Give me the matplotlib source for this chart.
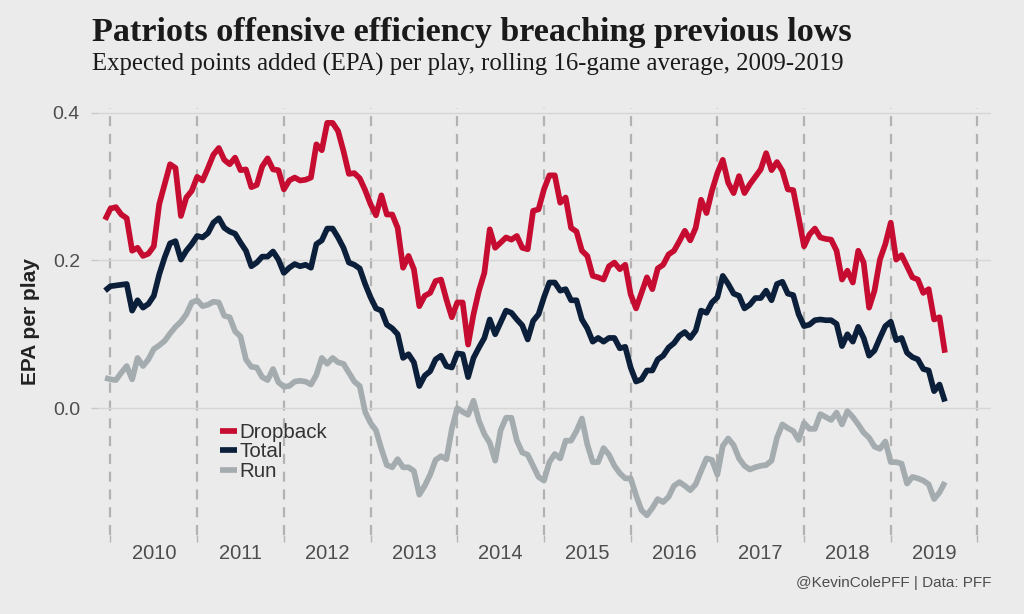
import numpy as np
import matplotlib
matplotlib.use("Agg")
import matplotlib.pyplot as plt

# rolling 16-game EPA per play, one value per regular-season game
# (last game of 2009 through week 11 of 2019)
dropback = [0.255, 0.270, 0.272, 0.262, 0.257, 0.213, 0.217, 0.206, 0.209, 0.219,
            0.276, 0.303, 0.330, 0.325, 0.260, 0.285, 0.294, 0.313, 0.308, 0.325,
            0.343, 0.352, 0.336, 0.330, 0.339, 0.322, 0.323, 0.299, 0.302, 0.327,
            0.338, 0.323, 0.322, 0.296, 0.308, 0.312, 0.308, 0.309, 0.312, 0.357,
            0.349, 0.386, 0.386, 0.375, 0.348, 0.317, 0.318, 0.311, 0.295, 0.276,
            0.261, 0.288, 0.262, 0.262, 0.244, 0.190, 0.206, 0.188, 0.138, 0.152,
            0.156, 0.172, 0.174, 0.147, 0.123, 0.143, 0.143, 0.086, 0.127, 0.159,
            0.183, 0.242, 0.217, 0.224, 0.231, 0.228, 0.233, 0.217, 0.215, 0.267,
            0.269, 0.296, 0.315, 0.315, 0.278, 0.285, 0.244, 0.239, 0.213, 0.206,
            0.179, 0.177, 0.174, 0.192, 0.197, 0.188, 0.194, 0.154, 0.135, 0.156,
            0.177, 0.161, 0.189, 0.194, 0.208, 0.213, 0.226, 0.240, 0.227, 0.244,
            0.282, 0.264, 0.294, 0.318, 0.336, 0.305, 0.291, 0.314, 0.291, 0.303,
            0.313, 0.323, 0.345, 0.322, 0.333, 0.321, 0.296, 0.295, 0.258, 0.219,
            0.235, 0.243, 0.231, 0.229, 0.228, 0.213, 0.174, 0.186, 0.170, 0.213,
            0.197, 0.136, 0.159, 0.201, 0.222, 0.251, 0.201, 0.207, 0.192, 0.177,
            0.174, 0.156, 0.161, 0.120, 0.123, 0.075]

total = [0.159, 0.165, 0.166, 0.167, 0.168, 0.132, 0.146, 0.136, 0.141, 0.152,
         0.181, 0.204, 0.223, 0.226, 0.201, 0.213, 0.222, 0.233, 0.231, 0.237,
         0.251, 0.257, 0.244, 0.239, 0.236, 0.224, 0.213, 0.192, 0.197, 0.205,
         0.205, 0.212, 0.201, 0.183, 0.190, 0.195, 0.192, 0.194, 0.190, 0.222,
         0.227, 0.243, 0.243, 0.231, 0.217, 0.197, 0.194, 0.189, 0.168, 0.150,
         0.135, 0.132, 0.113, 0.108, 0.100, 0.068, 0.073, 0.062, 0.030, 0.044,
         0.050, 0.066, 0.071, 0.057, 0.055, 0.074, 0.073, 0.042, 0.068, 0.082,
         0.095, 0.120, 0.100, 0.116, 0.132, 0.129, 0.120, 0.112, 0.093, 0.118,
         0.127, 0.150, 0.170, 0.170, 0.159, 0.161, 0.146, 0.146, 0.120, 0.108,
         0.090, 0.095, 0.090, 0.095, 0.095, 0.081, 0.083, 0.055, 0.036, 0.039,
         0.051, 0.051, 0.066, 0.071, 0.082, 0.088, 0.098, 0.103, 0.095, 0.105,
         0.132, 0.129, 0.143, 0.150, 0.179, 0.168, 0.155, 0.152, 0.135, 0.140,
         0.149, 0.149, 0.159, 0.146, 0.168, 0.171, 0.155, 0.153, 0.127, 0.111,
         0.113, 0.119, 0.120, 0.119, 0.119, 0.114, 0.084, 0.100, 0.090, 0.110,
         0.095, 0.071, 0.078, 0.095, 0.111, 0.117, 0.092, 0.095, 0.075, 0.069,
         0.066, 0.053, 0.051, 0.023, 0.032, 0.009]

run = [0.041, 0.039, 0.038, 0.048, 0.057, 0.039, 0.068, 0.057, 0.066, 0.080,
       0.085, 0.091, 0.101, 0.110, 0.117, 0.127, 0.143, 0.146, 0.138, 0.140,
       0.144, 0.143, 0.125, 0.123, 0.104, 0.097, 0.066, 0.056, 0.055, 0.042,
       0.038, 0.053, 0.035, 0.029, 0.030, 0.036, 0.037, 0.036, 0.032, 0.045,
       0.068, 0.060, 0.068, 0.062, 0.060, 0.048, 0.036, 0.030, -0.005, -0.020,
       -0.030, -0.055, -0.077, -0.080, -0.069, -0.080, -0.080, -0.085, -0.117, -0.105,
       -0.090, -0.070, -0.065, -0.069, -0.028, 0.000, -0.005, -0.009, 0.010, -0.017,
       -0.035, -0.047, -0.071, -0.030, -0.013, -0.013, -0.044, -0.060, -0.063, -0.078,
       -0.093, -0.098, -0.073, -0.062, -0.068, -0.044, -0.044, -0.031, -0.014, -0.049,
       -0.073, -0.073, -0.054, -0.063, -0.078, -0.088, -0.095, -0.095, -0.118, -0.138,
       -0.145, -0.135, -0.123, -0.127, -0.120, -0.105, -0.100, -0.105, -0.111, -0.103,
       -0.085, -0.068, -0.070, -0.090, -0.051, -0.041, -0.050, -0.068, -0.078, -0.083,
       -0.080, -0.078, -0.077, -0.071, -0.040, -0.022, -0.027, -0.031, -0.043, -0.020,
       -0.028, -0.028, -0.008, -0.012, -0.016, -0.006, -0.022, -0.004, -0.012, -0.022,
       -0.033, -0.040, -0.052, -0.055, -0.045, -0.073, -0.073, -0.075, -0.102, -0.093,
       -0.095, -0.098, -0.103, -0.123, -0.114, -0.100]

seasons = list(range(2010, 2020))
games_per_season = 16
first_game_2010 = 1   # game index where the 2010 season starts

series = [("Dropback", dropback, "#C60C30"),
          ("Total", total, "#0C1F3A"),
          ("Run", run, "#A5ACAF")]

bg = "#EBEBEB"
plt.rcParams["font.family"] = ["Liberation Sans", "DejaVu Sans"]

fig = plt.figure(figsize=(10.24, 6.14), dpi=100, facecolor=bg)
ax = fig.add_axes([98 / 1024, 1 - 535 / 614, 893 / 1024, 427.5 / 614])
ax.set_facecolor(bg)

# season boundaries
bounds = [first_game_2010 + games_per_season * k for k in range(len(seasons) + 1)]
for b in bounds:
    ax.axvline(b, color="#B2B2B2", lw=1.6, ls=(0, (4.5, 3.5)), zorder=1)

games = np.arange(len(dropback))
for name, vals, col in series:
    ax.plot(games, vals, color=col, lw=4.1, label=name, zorder=3,
            solid_joinstyle="round", solid_capstyle="butt")

ax.set_xlim(-1.3, 163.5)
ax.set_ylim(-0.1716, 0.4068)

ax.set_yticks([0.0, 0.2, 0.4])
ax.set_yticklabels(["0.0", "0.2", "0.4"])
ax.grid(axis="y", color="#D6D6D6", lw=1.0, zorder=0)
ax.set_xticks(bounds)
ax.set_xticklabels([""] * len(bounds))
ax.set_xticks([b + games_per_season / 2 for b in bounds[:-1]], minor=True)
ax.set_xticklabels([str(s) for s in seasons], minor=True)
ax.tick_params(axis="x", which="major", length=5, color="#B5B5B5", width=1)
ax.tick_params(axis="x", which="minor", length=0, pad=6.5, labelsize=14.5, labelcolor="#4D4D4D")
ax.tick_params(axis="y", length=5, color="#C8C8C8", width=1, pad=8, labelsize=14,
               labelcolor="#4D4D4D")
for s in ax.spines.values():
    s.set_visible(False)

ax.set_ylabel("EPA per play", fontsize=15, fontweight="bold", color="#222222", labelpad=9)

leg = ax.legend(loc="upper left", bbox_to_anchor=(0.137, 0.262), frameon=False,
                fontsize=14.8, handlelength=0.8, handletextpad=0.15, labelspacing=0.02,
                borderpad=0, borderaxespad=0)
for t in leg.get_texts():
    t.set_color("#333333")

fig.text(92 / 1024, 1 - 41 / 614, "Patriots offensive efficiency breaching previous lows",
         family="Liberation Serif", fontweight="bold", fontsize=24.6, color="#1A1A1A",
         va="baseline", ha="left")
fig.text(92 / 1024, 1 - 71 / 614,
         "Expected points added (EPA) per play, rolling 16-game average, 2009-2019",
         family="Liberation Serif", fontsize=17.8, color="#1A1A1A", va="baseline", ha="left")
fig.text(991 / 1024, 1 - 583 / 614, "@KevinColePFF | Data: PFF", fontsize=11,
         color="#4D4D4D", ha="right", va="center")

fig.savefig("out.png", dpi=100, facecolor=bg)
